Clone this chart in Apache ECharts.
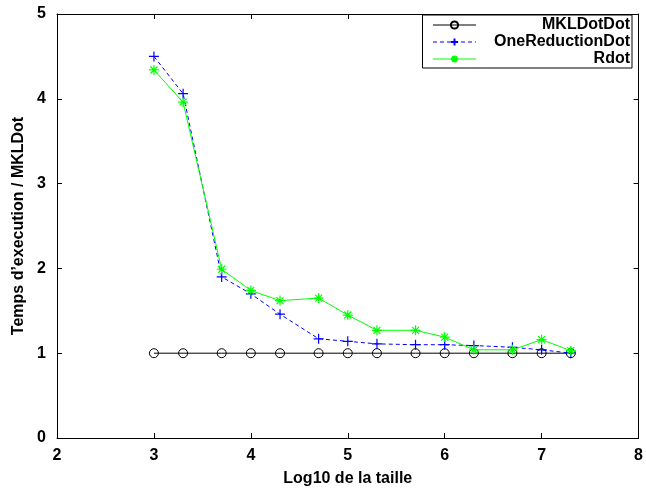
<!DOCTYPE html>
<html>
<head>
<meta charset="utf-8">
<script src="https://cdn.jsdelivr.net/npm/echarts@6/dist/echarts.min.js"></script>
<style>
  html, body { margin: 0; padding: 0; background: #fff; }
  #chart { width: 646px; height: 495px; }
</style>
</head>
<body>
<div id="chart"></div>
<script>
// log10 of the vector size
var log10Taille = [3, 3.301, 3.699, 4, 4.301, 4.699, 5, 5.301, 5.699, 6, 6.301, 6.699, 7, 7.301];

// execution time relative to MKLDot
var mklDotDot        = [1, 1, 1, 1, 1, 1, 1, 1, 1, 1, 1, 1, 1, 1];
var oneReductionDot  = [4.50, 4.06, 1.90, 1.70, 1.46, 1.17, 1.14, 1.11, 1.10, 1.10, 1.09, 1.07, 1.04, 1.00];
var rdot             = [4.34, 3.96, 1.99, 1.74, 1.62, 1.65, 1.45, 1.27, 1.27, 1.19, 1.04, 1.04, 1.16, 1.03];

var xTicks = [2, 3, 4, 5, 6, 7, 8];
var yTicks = [0, 1, 2, 3, 4, 5];

function pairs(ys) {
  return log10Taille.map(function (x, i) { return [x, ys[i]]; });
}

var FONT = '"Liberation Sans", "DejaVu Sans", sans-serif';
var FS = 16;
var plusPath = 'path://M5,0L5,10M0,5L10,5';
var starPath = 'path://M5,0L5,10M0,5L10,5M1.5,1.5L8.5,8.5M8.5,1.5L1.5,8.5';

var chart = echarts.init(document.getElementById('chart'), null, { renderer: 'canvas' });

var axisCommon = {
  type: 'value',
  splitLine: { show: false },
  axisLine: { show: true, onZero: false, lineStyle: { color: '#000', width: 1 } },
  axisTick: { show: true, inside: true, length: 5, lineStyle: { color: '#000' } }
};
var labelFont = { fontFamily: FONT, fontWeight: 'bold', fontSize: FS, color: '#000' };

chart.setOption({
  animation: false,
  backgroundColor: '#fff',
  grid: { left: 57, right: 7, top: 14, bottom: 57, containLabel: false },
  xAxis: [
    Object.assign({}, axisCommon, {
      position: 'bottom',
      min: xTicks[0], max: xTicks[xTicks.length - 1], interval: 1,
      name: 'Log10 de la taille',
      nameLocation: 'middle',
      nameGap: 33,
      nameTextStyle: labelFont,
      axisLabel: Object.assign({ margin: 10 }, labelFont)
    }),
    Object.assign({}, axisCommon, {
      position: 'top',
      min: xTicks[0], max: xTicks[xTicks.length - 1], interval: 1,
      axisLabel: { show: false }
    })
  ],
  yAxis: [
    Object.assign({}, axisCommon, {
      position: 'left',
      min: yTicks[0], max: yTicks[yTicks.length - 1], interval: 1,
      name: 'Temps d\u2019execution / MKLDot',
      nameLocation: 'middle',
      nameGap: 28,
      nameRotate: 90,
      nameTextStyle: labelFont,
      axisLabel: Object.assign({ margin: 11 }, labelFont)
    }),
    Object.assign({}, axisCommon, {
      position: 'right',
      min: yTicks[0], max: yTicks[yTicks.length - 1], interval: 1,
      axisLabel: { show: false }
    })
  ],
  legend: {
    orient: 'vertical',
    right: 14,
    top: 15,
    itemWidth: 43,
    itemHeight: 9,
    itemGap: 1,
    padding: [2, 2, 1, 10],
    borderColor: '#000',
    borderWidth: 1,
    backgroundColor: '#fff',
    lineStyle: { width: 1 },
    formatter: function (name) { return '{t|' + name + '}'; },
    textStyle: {
      rich: {
        t: { width: 149, lineHeight: 16, align: 'right', fontFamily: FONT, fontWeight: 'bold', fontSize: FS, color: '#000' }
      }
    },
    data: ['MKLDotDot', 'OneReductionDot', 'Rdot']
  },
  series: [
    {
      name: 'MKLDotDot',
      type: 'line',
      data: pairs(mklDotDot),
      symbol: 'circle',
      symbolSize: 9,
      showAllSymbol: true,
      lineStyle: { color: '#000', width: 1 },
      itemStyle: { color: 'rgba(0,0,0,0)', borderColor: '#000', borderWidth: 1 },
      z: 2
    },
    {
      name: 'OneReductionDot',
      type: 'line',
      data: pairs(oneReductionDot),
      symbol: plusPath,
      symbolSize: 10,
      showAllSymbol: true,
      lineStyle: { color: '#0000ff', width: 1, type: [4, 3] },
      itemStyle: { color: 'rgba(0,0,0,0)', borderColor: '#0000ff', borderWidth: 1.2 },
      z: 3
    },
    {
      name: 'Rdot',
      type: 'line',
      data: pairs(rdot),
      symbol: starPath,
      symbolSize: 10,
      showAllSymbol: true,
      lineStyle: { color: '#00ff00', width: 1 },
      itemStyle: { color: 'rgba(0,0,0,0)', borderColor: '#00ff00', borderWidth: 1.2 },
      z: 4
    }
  ]
});
</script>
</body>
</html>
